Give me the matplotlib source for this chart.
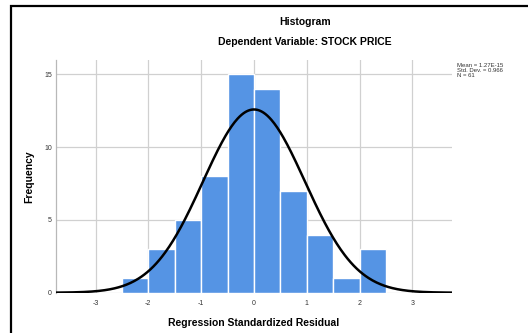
import numpy as np
import matplotlib
matplotlib.use("Agg")
import matplotlib.pyplot as plt
from matplotlib.patches import Rectangle

# residual histogram (bin edges and counts)
bin_edges = [-2.5, -2.0, -1.5, -1.0, -0.5, 0.0, 0.5, 1.0, 1.5, 2.0, 2.5]
counts = [1, 3, 5, 8, 15, 14, 7, 4, 1, 3]
mean = 1.27e-15
std = 0.966
n = 61
xticks = [-3, -2, -1, 0, 1, 2, 3]
yticks = [0, 5, 10, 15]

plt.rcParams['font.family'] = ['Liberation Sans', 'DejaVu Sans']
plt.rcParams['axes.unicode_minus'] = False

fig = plt.figure(figsize=(5.28, 3.33), dpi=100)
ax = fig.add_axes([0.106, 0.121, 0.75, 0.699])

lefts = np.array(bin_edges[:-1])
widths = np.diff(bin_edges)
ax.bar(lefts, counts, width=widths, align='edge', color='#5594e4',
       edgecolor='white', linewidth=1.0, zorder=2)

# fitted normal curve scaled to counts
bw = widths[0]
xx = np.linspace(-3.75, 3.75, 400)
yy = n * bw / (std * np.sqrt(2 * np.pi)) * np.exp(-0.5 * ((xx - mean) / std) ** 2)
ax.plot(xx, yy, color='black', lw=1.8, zorder=3)

ax.set_xlim(-3.75, 3.75)
ax.set_ylim(0, 16)
ax.set_xticks(xticks)
ax.set_yticks(yticks)
ax.tick_params(length=0, labelsize=5, colors='#333333')
ax.tick_params(axis='y', pad=3)
ax.tick_params(axis='x', pad=5)
ax.grid(True, color='#d0d0d0', lw=0.9, zorder=0)
ax.set_axisbelow(True)
for s in ax.spines.values():
    s.set_visible(False)
ax.spines['left'].set_visible(True)
ax.spines['left'].set_color('#b8b8b8')
ax.spines['left'].set_linewidth(0.9)

ax.set_xlabel('Regression Standardized Residual', fontsize=7.5,
              fontweight='bold', labelpad=8)
ax.set_ylabel('Frequency', fontsize=7.5, fontweight='bold', labelpad=7)

fig.text(0.578, 0.934, 'Histogram', ha='center', va='center',
         fontsize=7.5, fontweight='bold')
fig.text(0.578, 0.874, 'Dependent Variable: STOCK PRICE', ha='center',
         va='center', fontsize=7.5, fontweight='bold')

fig.text(0.866, 0.81, 'Mean = 1.27E-15\nStd. Dev. = 0.966\nN = 61',
         ha='left', va='top', fontsize=4.3, color='#333333',
         linespacing=1.0)

# black frame around the chart (cropped on right and bottom)
fig.patches.append(Rectangle((11 / 528, -0.1), 1.2, 1 - 6 / 333 + 0.1,
                             transform=fig.transFigure, fill=False,
                             edgecolor='black', lw=1.6))

fig.savefig('out.png', dpi=100)
